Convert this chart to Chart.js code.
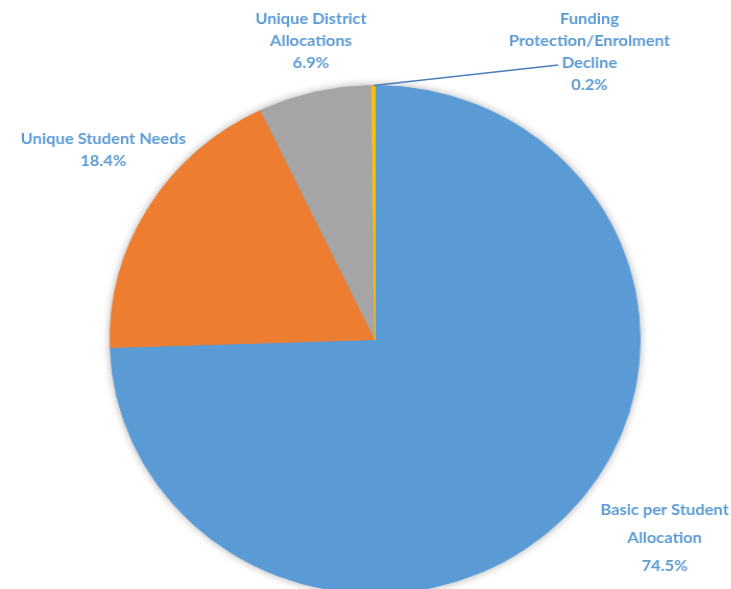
<!DOCTYPE html>
<html>
<head>
<meta charset="utf-8">
<script src="https://cdn.jsdelivr.net/npm/chart.js@4.4.0/dist/chart.umd.min.js"></script>
<style>
  html, body { margin:0; padding:0; background:#fff; overflow:hidden; }
  /* the pie is a touch wider than tall, so stretch the drawing horizontally */
  #wrap { width:701px; height:620px; transform:scaleX(1.0433); transform-origin:0 0; }
</style>
</head>
<body>
<div id="wrap"><canvas id="fundingPie"></canvas></div>
<script>
const categories = [
  ['Basic per Student', 'Allocation'],
  ['Unique Student Needs'],
  ['Unique District', 'Allocations'],
  ['Funding', 'Protection/Enrolment', 'Decline']
];
const shares = [74.5, 18.4, 6.9, 0.2];
const sliceColors = ['#5B9BD5', '#ED7D31', '#A5A5A5', '#FFC000'];

const labelColor = '#5B9BD5';
const labelFont = 'bold 15.8px Lato, "Open Sans", sans-serif';
// where each slice's text block sits (first line centre + line step)
const labelSpots = [
  { x: 637, y: 510, step: 28 },
  { x: 99,  y: 139, step: 22 },
  { x: 298, y: 19,  step: 22 },
  { x: 565, y: 19,  step: 22 }
];
const leaderEnd = { x: 535, y: 65 };

const pieShadow = {
  id: 'pieShadow',
  beforeDatasetsDraw(chart) {
    const arc = chart.getDatasetMeta(0).data[0];
    const ctx = chart.ctx;
    ctx.save();
    ctx.shadowColor = 'rgba(0,0,0,0.35)';
    ctx.shadowBlur = 9;
    ctx.fillStyle = '#fff';
    ctx.beginPath();
    ctx.arc(arc.x, arc.y, arc.outerRadius, 0, Math.PI * 2);
    ctx.fill();
    ctx.restore();
  }
};

const sliceLabels = {
  id: 'sliceLabels',
  afterDatasetsDraw(chart) {
    const ctx = chart.ctx;
    const arcs = chart.getDatasetMeta(0).data;

    // leader line for the thin last slice
    const thin = arcs[arcs.length - 1];
    const mid = (thin.startAngle + thin.endAngle) / 2;
    ctx.save();
    ctx.strokeStyle = '#4A7EBB';
    ctx.lineWidth = 1.5;
    ctx.beginPath();
    ctx.moveTo(thin.x + Math.cos(mid) * thin.outerRadius, thin.y + Math.sin(mid) * thin.outerRadius);
    ctx.lineTo(leaderEnd.x, leaderEnd.y);
    ctx.stroke();

    ctx.fillStyle = labelColor;
    ctx.font = labelFont;
    ctx.textAlign = 'center';
    ctx.textBaseline = 'middle';
    categories.forEach((lines, i) => {
      const spot = labelSpots[i];
      const all = lines.concat([shares[i].toFixed(1) + '%']);
      all.forEach((t, j) => ctx.fillText(t, spot.x, spot.y + j * spot.step));
    });
    ctx.restore();
  }
};

new Chart(document.getElementById('fundingPie').getContext('2d'), {
  type: 'pie',
  data: {
    labels: categories,
    datasets: [{
      data: shares,
      backgroundColor: sliceColors,
      borderColor: sliceColors,
      borderWidth: 1
    }]
  },
  options: {
    responsive: true,
    maintainAspectRatio: false,
    animation: false,
    layout: { padding: { top: 85, bottom: 26, left: 105, right: 87 } },
    plugins: { legend: { display: false }, tooltip: { enabled: false } }
  },
  plugins: [pieShadow, sliceLabels]
});
</script>
</body>
</html>
